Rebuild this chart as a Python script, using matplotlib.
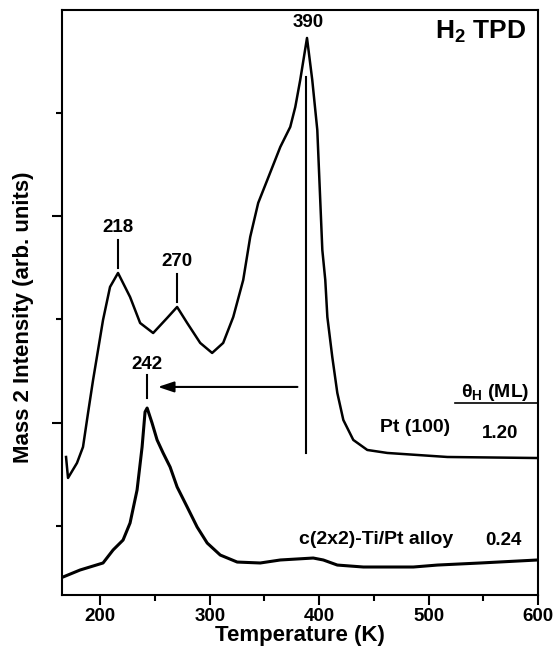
import matplotlib
matplotlib.use("Agg")
import matplotlib.pyplot as plt
import numpy as np

# H2 TPD spectra (arb. units)
pt_temp = [168.7, 170.5, 178.7, 184.2, 188.8, 193.4, 202.5, 208.9, 216.2, 227.2,
           236.4, 248.3, 261.1, 270.2, 279.4, 291.3, 302.2, 312.3, 321.5, 330.6,
           337.0, 344.3, 352.6, 364.5, 373.6, 378.2, 382.7, 388.9, 393.7, 398.3,
           402.9, 405.6, 407.5, 412.0, 416.6, 422.1, 431.2, 444.0, 462.3, 517.2, 599.6]
pt_signal = [1.668, 1.465, 1.610, 1.765, 2.094, 2.413, 2.994, 3.314, 3.449, 3.217,
             2.965, 2.868, 3.014, 3.120, 2.965, 2.772, 2.675, 2.772, 3.023, 3.381,
             3.798, 4.127, 4.349, 4.669, 4.863, 5.056, 5.317, 5.724, 5.317, 4.834,
             3.672, 3.381, 3.023, 2.636, 2.288, 2.026, 1.833, 1.736, 1.707, 1.668, 1.658]

alloy_temp = [165.9, 181.5, 202.5, 211.7, 220.8, 227.2, 233.6, 238.2, 240.9, 242.8,
              247.3, 251.9, 257.4, 263.8, 270.2, 279.4, 288.5, 297.7, 309.6, 325.1,
              346.2, 364.5, 394.6, 403.8, 416.6, 440.4, 486.1, 508.1, 547.4, 599.6]
alloy_signal = [0.506, 0.574, 0.642, 0.768, 0.864, 1.029, 1.348, 1.765, 2.104, 2.142,
                1.997, 1.833, 1.707, 1.571, 1.378, 1.184, 0.990, 0.835, 0.719, 0.651,
                0.642, 0.671, 0.690, 0.671, 0.622, 0.603, 0.603, 0.622, 0.642, 0.671]

pt_peaks = [216, 270]
pt_peak_labels = ["218", "270"]
coverage = ["1.20", "0.24"]

plt.rcParams['font.family'] = ['Liberation Sans', 'DejaVu Sans']
plt.rcParams['font.weight'] = 'bold'
plt.rcParams['mathtext.fontset'] = 'custom'
plt.rcParams['mathtext.rm'] = 'Liberation Sans:bold'
plt.rcParams['mathtext.it'] = 'Liberation Sans:bold'
plt.rcParams['mathtext.bf'] = 'Liberation Sans:bold'

fig = plt.figure(figsize=(5.57, 6.64), dpi=100)
ax = fig.add_axes([0.1113, 0.1039, 0.8546, 0.8811])

ax.plot(pt_temp, pt_signal, color='black', lw=1.8)
ax.plot(alloy_temp, alloy_signal, color='black', lw=2.2)

ax.set_xlim(165, 600)
ax.set_ylim(0.332, 5.995)
ax.set_xticks([200, 300, 400, 500, 600])
ax.set_xticks(np.arange(250, 600, 100), minor=True)
ax.set_yticks([2, 4])
ax.set_yticks([1, 3, 5], minor=True)
ax.set_yticklabels([])
ax.tick_params(axis='both', which='major', length=7, width=1.5, direction='out',
               labelsize=13.5, pad=2)
ax.tick_params(axis='both', which='minor', length=4, width=1.5, direction='out')
for s in ax.spines.values():
    s.set_linewidth(1.5)

ax.set_xlabel('Temperature (K)', fontsize=16, fontweight='bold', labelpad=0)
ax.set_ylabel('Mass 2 Intensity (arb. units)', fontsize=16, fontweight='bold')
ax.yaxis.set_label_coords(-0.059, 0.475)

# peak markers
for t, lab in zip(pt_peaks, pt_peak_labels):
    i = pt_temp.index(min(pt_temp, key=lambda v: abs(v - t)))
    top = pt_signal[i]
    ax.plot([t, t], [top + 0.05, top + 0.32], color='black', lw=1.5)
    ax.text(t, top + 0.44, lab, ha='center', va='center', fontsize=13.5, fontweight='bold')

ax.plot([388.2, 388.2], [1.707, 5.347], color='black', lw=1.5)
ax.text(390, 5.869, '390', ha='center', va='center', fontsize=13.5, fontweight='bold')
ax.plot([242.8, 242.8], [2.239, 2.462], color='black', lw=1.5)
ax.text(242.8, 2.559, '242', ha='center', va='center', fontsize=13.5, fontweight='bold')
ax.annotate('', xy=(250.1, 2.346), xytext=(382.7, 2.346),
            arrowprops=dict(arrowstyle='-|>,head_length=0.6,head_width=0.2',
                            color='black', lw=1.5, mutation_scale=16))

ax.text(547.4, 5.782, 'H$_2$ TPD', ha='center', va='center', fontsize=19, fontweight='bold')

ax.text(561.2, 2.297, r'$\theta_H$ (ML)', ha='center', va='center', fontsize=14, fontweight='bold')
ax.plot([524.6, 599.6], [2.191, 2.191], color='black', lw=1.2)
ax.text(520.0, 1.949, 'Pt (100)', ha='right', va='center', fontsize=14, fontweight='bold')
ax.text(565.7, 1.900, coverage[0], ha='center', va='center', fontsize=13.5, fontweight='bold')
ax.text(522.7, 0.874, 'c(2x2)-Ti/Pt alloy', ha='right', va='center', fontsize=14, fontweight='bold')
ax.text(568.5, 0.855, coverage[1], ha='center', va='center', fontsize=13.5, fontweight='bold')

fig.savefig('out.png', dpi=100)
